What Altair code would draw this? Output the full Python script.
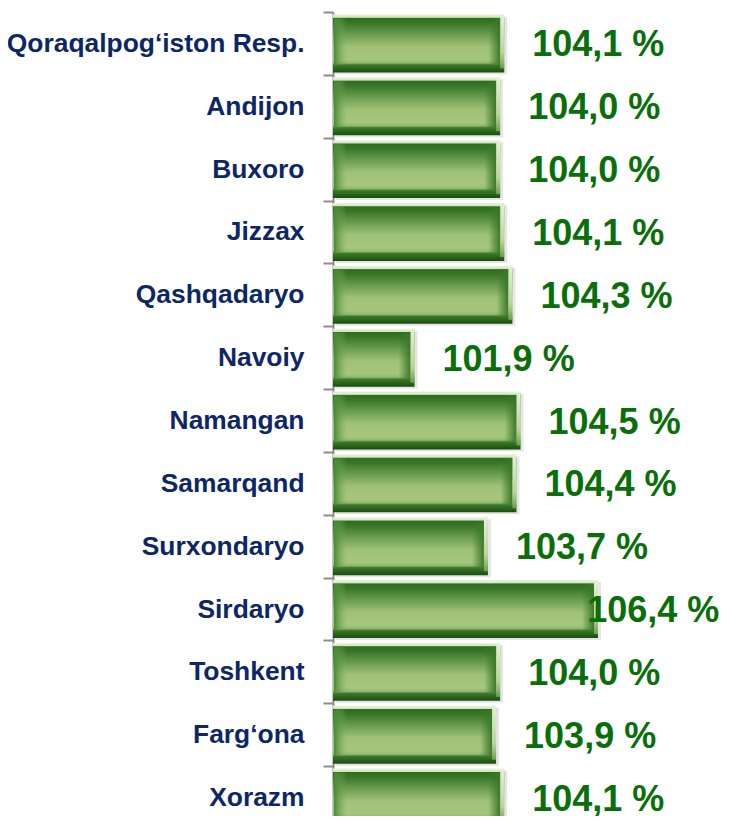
import altair as alt
import pandas as pd

regions = ["Qoraqalpog‘iston Resp.", "Andijon", "Buxoro", "Jizzax", "Qashqadaryo",
           "Navoiy", "Namangan", "Samarqand", "Surxondaryo", "Sirdaryo",
           "Toshkent", "Farg‘ona", "Xorazm"]
values = [104.1, 104.0, 104.0, 104.1, 104.3, 101.9, 104.5, 104.4, 103.7, 106.4, 104.0, 103.9, 104.1]
labels = [f"{v:.1f}".replace(".", ",") + " %" for v in values]

df = pd.DataFrame({"region": regions, "value": values, "label": labels})

FONT = "Liberation Sans, Arial, sans-serif"
x_scale = alt.Scale(domain=[99.9, 106.4], nice=False, zero=False, clamp=True)

y_axis = alt.Axis(labelFont=FONT, labelFontSize=26.4, labelFontWeight="bold",
                  labelColor="#0d2766", labelPadding=19, labelLimit=400,
                  tickSize=10, tickColor="#8c8c8c", tickWidth=2,
                  domainColor="#8c8c8c", domainWidth=2,
                  tickOffset=-31.4, labelOffset=31.4, grid=False, title=None)
y_scale = alt.Scale(range=[0, 817], paddingInner=0.078, paddingOuter=0.039)
y_enc = alt.Y("region:N", sort=regions, scale=y_scale, axis=y_axis, title=None)


def stops(pairs):
    return [alt.GradientStop(offset=o, color=c) for o, c in pairs]


grad_main = alt.LinearGradient(gradient="linear", x1=0, x2=0, y1=0, y2=1, stops=stops([
    (0.0, "#eaf3de"), (0.05, "#d3e5bd"), (0.065, "#2f6c20"), (0.14, "#377527"),
    (0.36, "#6e9f54"), (0.55, "#9fc176"), (0.78, "#a6c67d"), (0.84, "#8fb76b"),
    (0.87, "#3d7a2b"), (1.0, "#1a4d10")]))

grad_left = alt.LinearGradient(gradient="linear", x1=0, x2=1, y1=0, y2=0, stops=stops([
    (0.0, "#4a8a36"), (1.0, "rgba(120,170,90,0)")]))

grad_right = alt.LinearGradient(gradient="linear", x1=0, x2=1, y1=0, y2=0, stops=stops([
    (0.0, "rgba(60,120,40,0)"), (1.0, "#3a7829")]))

grad_edge = alt.LinearGradient(gradient="linear", x1=0, x2=0, y1=0, y2=1, stops=stops([
    (0.0, "#e6f0d8"), (0.7, "#b9d49a"), (1.0, "#6c9f52")]))

base = alt.Chart(df)

shadow = base.mark_bar(color="#c8c8c8", opacity=0.45, xOffset=3, x2Offset=3, yOffset=2).encode(
    x=alt.X("value:Q", scale=x_scale, axis=None), y=y_enc)

main = base.mark_bar(color=grad_main, x2Offset=1).encode(
    x=alt.X("value:Q", scale=x_scale, axis=None), y=y_enc)

left = base.mark_bar(color=grad_left, height=46, yOffset=-2).encode(
    x=alt.value(1), x2=alt.value(14), y=y_enc)

right = base.mark_bar(color=grad_right, height=46, yOffset=-2, xOffset=-16, x2Offset=-4).encode(
    x=alt.X("value:Q", scale=x_scale, axis=None), x2=alt.X2("value"), y=y_enc)

edge = base.mark_bar(color=grad_edge, height=54, yOffset=-2, xOffset=-4, x2Offset=0).encode(
    x=alt.X("value:Q", scale=x_scale, axis=None), x2=alt.X2("value"), y=y_enc)

text = base.transform_calculate(lx="min(datum.value, 105.45)").mark_text(
    align="left", baseline="middle", dx=28, dy=2, font=FONT, fontSize=36,
    fontWeight="bold", color="#0a6e0a").encode(
    x=alt.X("lx:Q", scale=x_scale, axis=None), y=y_enc, text="label:N")

chart = alt.layer(shadow, main, left, right, edge, text).properties(
    width=265, height=804,
    autosize=alt.AutoSizeParams(type="none"),
    padding={"left": 325, "top": 4, "right": 125, "bottom": 0},
).configure_view(stroke=None)

chart.save("out.html", embed_options={"renderer": "svg", "actions": False})
